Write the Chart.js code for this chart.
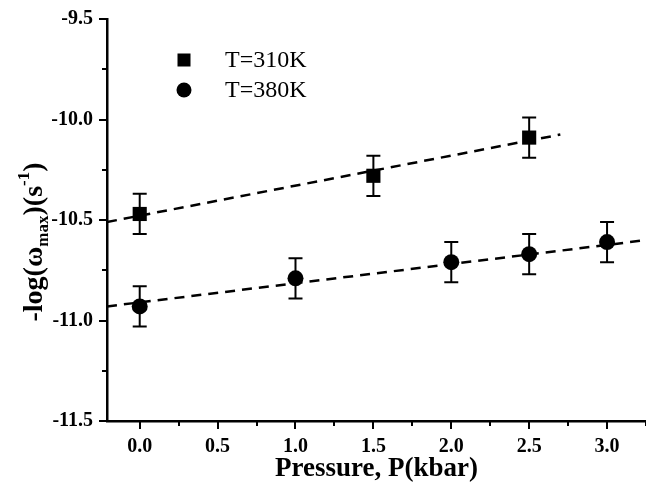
<!DOCTYPE html>
<html>
<head>
<meta charset="utf-8">
<title>Pressure dependence of -log(omega_max)</title>
<script src="https://cdn.jsdelivr.net/npm/chart.js@4.4.0/dist/chart.umd.min.js"></script>
<style>
  html, body { margin: 0; padding: 0; background: #fff; }
</style>
</head>
<body>
<canvas id="chart" width="646" height="485"></canvas>
<script>
// Measured points, pressure in kbar
const p310 = [0.0, 1.5, 2.5];
const w310 = [-10.47, -10.28, -10.09];
const err310 = [0.10, 0.10, 0.10];

const p380 = [0.0, 1.0, 2.0, 2.5, 3.0];
const w380 = [-10.93, -10.79, -10.71, -10.67, -10.61];
const err380 = [0.10, 0.10, 0.10, 0.10, 0.10];

// Dashed linear fits (end points)
const fitP310 = [-0.21, 2.70];
const fitW310 = [-10.51, -10.075];
const fitP380 = [-0.21, 3.25];
const fitW380 = [-10.93, -10.60];

// Tick labels
const xTickLabels = ['0.0', '0.5', '1.0', '1.5', '2.0', '2.5', '3.0'];
const yTickLabels = ['-9.5', '-10.0', '-10.5', '-11.0', '-11.5'];

const seriesNames = ['T=310K', 'T=380K'];

const serif = "'Liberation Serif', 'Times New Roman', serif";

function toPoints(xs, ys) {
    return xs.map((x, i) => ({ x: x, y: ys[i] }));
}

function isMajor(v) {
    return Math.abs(v * 2 - Math.round(v * 2)) < 1e-6;
}

// major / minor tick marks, pointing outwards
const axisTicks = {
    id: 'axisTicks',
    afterDraw(chart) {
        const { ctx, chartArea, scales } = chart;
        ctx.save();
        ctx.strokeStyle = '#000';
        ctx.lineWidth = 2;
        scales.x.ticks.forEach(t => {
            const px = Math.round(scales.x.getPixelForValue(t.value));
            const len = isMajor(t.value) ? 8 : 5;
            ctx.beginPath();
            ctx.moveTo(px, chartArea.bottom);
            ctx.lineTo(px, chartArea.bottom + len);
            ctx.stroke();
        });
        scales.y.ticks.forEach(t => {
            const py = Math.round(scales.y.getPixelForValue(t.value));
            const len = isMajor(t.value) ? 8 : 5;
            ctx.beginPath();
            ctx.moveTo(chartArea.left, py);
            ctx.lineTo(chartArea.left - len, py);
            ctx.stroke();
        });
        ctx.restore();
    }
};

// vertical error bars with caps
const errorBars = {
    id: 'errorBars',
    beforeDatasetsDraw(chart) {
        const { ctx, scales } = chart;
        const sets = [[p310, w310, err310], [p380, w380, err380]];
        ctx.save();
        ctx.strokeStyle = '#000';
        ctx.lineWidth = 2;
        sets.forEach(([xs, ys, es]) => {
            xs.forEach((x, i) => {
                const px = scales.x.getPixelForValue(x);
                const top = scales.y.getPixelForValue(ys[i] + es[i]);
                const bot = scales.y.getPixelForValue(ys[i] - es[i]);
                ctx.beginPath();
                ctx.moveTo(px, top); ctx.lineTo(px, bot);
                ctx.moveTo(px - 7, top); ctx.lineTo(px + 7, top);
                ctx.moveTo(px - 7, bot); ctx.lineTo(px + 7, bot);
                ctx.stroke();
            });
        });
        ctx.restore();
    }
};

// legend inside the plot, top left
const innerLegend = {
    id: 'innerLegend',
    afterDraw(chart) {
        const { ctx, chartArea } = chart;
        const mx = chartArea.left + 77;
        const tx = chartArea.left + 118;
        const rows = [chartArea.top + 41, chartArea.top + 71];
        ctx.save();
        ctx.fillStyle = '#000';
        ctx.fillRect(mx - 6.5, rows[0] - 6.5, 13, 13);
        ctx.beginPath();
        ctx.arc(mx, rows[1], 7.5, 0, Math.PI * 2);
        ctx.fill();
        ctx.font = '24px ' + serif;
        ctx.textBaseline = 'middle';
        ctx.textAlign = 'left';
        ctx.fillText(seriesNames[0], tx, rows[0] + 1);
        ctx.fillText(seriesNames[1], tx, rows[1] + 1);
        ctx.restore();
    }
};

// y title with subscript and superscript
const yTitle = {
    id: 'yTitle',
    afterDraw(chart) {
        const { ctx, chartArea } = chart;
        const parts = [
            { text: '-log(\u03c9', size: 28, shift: 0 },
            { text: 'max', size: 17, shift: 6 },
            { text: ')(s', size: 28, shift: 0 },
            { text: '-1', size: 17, shift: -13 },
            { text: ')', size: 28, shift: 0 }
        ];
        ctx.save();
        ctx.fillStyle = '#000';
        ctx.textBaseline = 'alphabetic';
        ctx.textAlign = 'left';
        let total = 0;
        parts.forEach(p => {
            ctx.font = 'bold ' + p.size + 'px ' + serif;
            p.w = ctx.measureText(p.text).width;
            total += p.w;
        });
        ctx.translate(42, (chartArea.top + chartArea.bottom) / 2 + 22);
        ctx.rotate(-Math.PI / 2);
        let u = -total / 2;
        parts.forEach(p => {
            ctx.font = 'bold ' + p.size + 'px ' + serif;
            ctx.fillText(p.text, u, p.shift);
            u += p.w;
        });
        ctx.restore();
    }
};

const tickFont = { family: serif, size: 20, weight: 'bold' };

new Chart(document.getElementById('chart'), {
    type: 'scatter',
    data: {
        datasets: [
            {
                label: 'fit 310K',
                data: toPoints(fitP310, fitW310),
                showLine: true,
                borderColor: '#000',
                borderWidth: 2.5,
                borderDash: [10, 7],
                pointRadius: 0
            },
            {
                label: 'fit 380K',
                data: toPoints(fitP380, fitW380),
                showLine: true,
                borderColor: '#000',
                borderWidth: 2.5,
                borderDash: [10, 7],
                pointRadius: 0
            },
            {
                label: seriesNames[0],
                data: toPoints(p310, w310),
                pointStyle: 'rect',
                pointRadius: 10,
                backgroundColor: '#000',
                borderColor: '#000',
                borderWidth: 0
            },
            {
                label: seriesNames[1],
                data: toPoints(p380, w380),
                pointStyle: 'circle',
                pointRadius: 8,
                backgroundColor: '#000',
                borderColor: '#000',
                borderWidth: 0
            }
        ]
    },
    options: {
        responsive: false,
        animation: false,
        layout: { autoPadding: false, padding: { top: 19, right: 0, bottom: 0, left: 0 } },
        plugins: {
            legend: { display: false },
            tooltip: { enabled: false }
        },
        scales: {
            x: {
                type: 'linear',
                min: -0.21,
                max: 3.25,
                grid: { display: false, drawTicks: false },
                border: { display: true, color: '#000', width: 2.5 },
                ticks: {
                    stepSize: 0.25,
                    includeBounds: false,
                    autoSkip: false,
                    maxRotation: 0,
                    padding: 14,
                    color: '#000',
                    font: tickFont,
                    callback: function(value) {
                        const s = value.toFixed(1);
                        return isMajor(value) && xTickLabels.includes(s) ? s : '';
                    }
                },
                title: {
                    display: true,
                    text: 'Pressure, P(kbar)',
                    color: '#000',
                    font: { family: serif, size: 27, weight: 'bold' },
                    padding: { top: 0, bottom: 0 }
                },
                afterFit: function(scale) {
                    scale.height = 64;
                    // plot runs right up to the canvas edge
                    scale.paddingLeft = 0;
                    scale.paddingRight = 0;
                }
            },
            y: {
                type: 'linear',
                min: -11.5,
                max: -9.5,
                grid: { display: false, drawTicks: false },
                border: { display: true, color: '#000', width: 2.5 },
                ticks: {
                    stepSize: 0.25,
                    includeBounds: false,
                    autoSkip: false,
                    padding: 14,
                    color: '#000',
                    font: tickFont,
                    callback: function(value) {
                        const s = value.toFixed(1);
                        return isMajor(value) && yTickLabels.includes(s) ? s : '';
                    }
                },
                afterFit: function(scale) {
                    scale.width = 107;
                    scale.paddingTop = 0;
                    scale.paddingBottom = 0;
                }
            }
        }
    },
    plugins: [errorBars, axisTicks, innerLegend, yTitle]
});
</script>
</body>
</html>
